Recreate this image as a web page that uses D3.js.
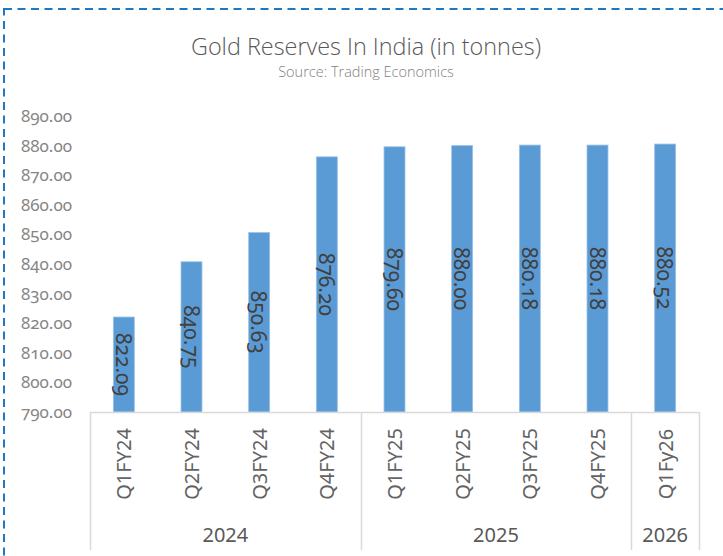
<!DOCTYPE html>
<html>
<head>
<meta charset="utf-8">
<script src="https://cdn.jsdelivr.net/npm/d3@7"></script>
<style>
  body { margin: 0; background: #fff; }
  svg text { font-family: "Noto Sans", "Open Sans", sans-serif; }
  .num { font-variant-numeric: oldstyle-nums; font-feature-settings: "onum" 1; }
</style>
</head>
<body>
<div id="chart"></div>
<script>
// chart data
var quarters = ["Q1FY24", "Q2FY24", "Q3FY24", "Q4FY24", "Q1FY25", "Q2FY25", "Q3FY25", "Q4FY25", "Q1Fy26"];
var years = ["2024", "2024", "2024", "2024", "2025", "2025", "2025", "2025", "2026"];
var reserves = [822.09, 840.75, 850.63, 876.20, 879.60, 880.00, 880.18, 880.18, 880.52];
var yTicks = [790, 800, 810, 820, 830, 840, 850, 860, 870, 880, 890];

var width = 723, height = 556;

var svg = d3.select("#chart").append("svg")
  .attr("width", width)
  .attr("height", height);

// dashed frame (only top and left show inside the picture)
svg.append("rect")
  .attr("x", 4).attr("y", 9)
  .attr("width", 760).attr("height", 600)
  .attr("fill", "none")
  .attr("stroke", "#2277c3")
  .attr("stroke-width", 2)
  .attr("stroke-dasharray", "8,5.5");

svg.append("text")
  .attr("x", 366).attr("y", 55)
  .attr("text-anchor", "middle")
  .style("font-family", "'Open Sans', sans-serif")
  .style("font-weight", 300)
  .style("font-size", "23.4px")
  .attr("fill", "#595959")
  .text("Gold Reserves In India (in tonnes)");

svg.append("text")
  .attr("x", 366).attr("y", 77)
  .attr("text-anchor", "middle")
  .style("font-family", "'Open Sans', sans-serif")
  .style("font-weight", 300)
  .style("font-size", "14.5px")
  .attr("fill", "#7f7f7f")
  .text("Source: Trading Economics");

var x = d3.scaleBand()
  .domain(quarters)
  .range([90, 699])
  .paddingInner(0.69)
  .paddingOuter(0.345);

var y = d3.scaleLinear()
  .domain([790, 890])
  .range([412, 116]);

// y axis labels
var yAxis = svg.append("g")
  .attr("transform", "translate(76,0)")
  .call(d3.axisLeft(y).tickValues(yTicks).tickSize(0).tickPadding(4).tickFormat(d3.format(".2f")));
yAxis.select(".domain").remove();
yAxis.selectAll("text")
  .attr("class", "num")
  .attr("fill", "#858585")
  .style("font-size", "17px");

// bars
svg.append("g").selectAll("rect")
  .data(reserves)
  .enter().append("rect")
  .attr("x", function(d, i) { return x(quarters[i]); })
  .attr("y", function(d) { return y(d); })
  .attr("width", x.bandwidth())
  .attr("height", function(d) { return y(790) - y(d); })
  .attr("fill", "#5b9bd5")
  .attr("stroke", "#9cc2e5")
  .attr("stroke-width", 0.8);

// value labels, rotated inside the bars
svg.append("g").selectAll("text")
  .data(reserves)
  .enter().append("text")
  .attr("class", "num")
  .attr("transform", function(d, i) {
    var cx = x(quarters[i]) + x.bandwidth() / 2;
    var cy = (y(d) + y(790)) / 2;
    return "translate(" + cx + "," + cy + ") rotate(90)";
  })
  .attr("text-anchor", "middle")
  .attr("dominant-baseline", "central")
  .attr("fill", "#404040")
  .style("font-size", "21px")
  .text(function(d) { return d3.format(".2f")(d); });

// category axis
var axisColor = "#d9d9d9";
svg.append("line")
  .attr("x1", 90).attr("x2", 699)
  .attr("y1", 412.5).attr("y2", 412.5)
  .attr("stroke", axisColor).attr("stroke-width", 1.5);

var yearNames = Array.from(new Set(years));
var groups = yearNames.map(function(yr) {
  var qs = quarters.filter(function(q, i) { return years[i] === yr; });
  return { year: yr, start: x(qs[0]) - x.step() * x.paddingInner() / 2, end: x(qs[qs.length - 1]) + x.bandwidth() + x.step() * x.paddingInner() / 2 };
});
var edges = [90].concat(groups.map(function(g) { return g.end; }));
edges[edges.length - 1] = 699;

svg.append("g").selectAll("line")
  .data(edges)
  .enter().append("line")
  .attr("x1", function(d) { return Math.round(d) + 0.5; })
  .attr("x2", function(d) { return Math.round(d) + 0.5; })
  .attr("y1", 412).attr("y2", 550)
  .attr("stroke", axisColor).attr("stroke-width", 1.5);

svg.append("g").selectAll("text")
  .data(quarters)
  .enter().append("text")
  .attr("transform", function(d) {
    return "translate(" + (x(d) + x.bandwidth() / 2) + ",464) rotate(-90)";
  })
  .attr("text-anchor", "middle")
  .attr("dominant-baseline", "central")
  .attr("fill", "#636363")
  .style("font-size", "20px")
  .text(function(d) { return d; });

svg.append("g").selectAll("text")
  .data(groups)
  .enter().append("text")
  .attr("x", function(g, i) { return (edges[i] + edges[i + 1]) / 2; })
  .attr("y", 542)
  .attr("text-anchor", "middle")
  .attr("fill", "#595959")
  .style("font-size", "20px")
  .text(function(g) { return g.year; });
</script>
</body>
</html>
